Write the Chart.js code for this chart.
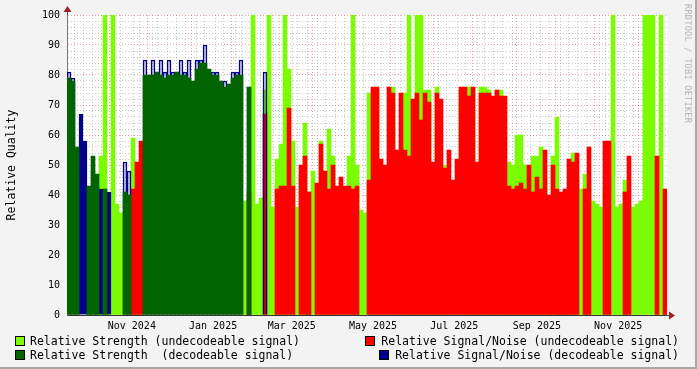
<!DOCTYPE html>
<html>
<head>
<meta charset="utf-8">
<script src="https://cdn.jsdelivr.net/npm/chart.js@4.4.1/dist/chart.umd.min.js"></script>
<style>
html, body { margin: 0; padding: 0; }
body { width: 697px; height: 369px; background: #f3f3f3; position: relative; overflow: hidden; font-family: 'DejaVu Sans Mono', monospace; }
#frame { position: absolute; left: 0; top: 0; width: 695px; height: 367px; border-right: 2px solid #a8a8a8; border-bottom: 2px solid #a8a8a8; }
#chart { position: absolute; left: 0; top: 0; }
.lg { position: absolute; font-size: 11.5px; line-height: 14px; white-space: pre; color: #000; }
.sw { position: absolute; width: 8px; height: 8px; border: 1px solid #000; }
#credit { position: absolute; left: 683px; top: 4px; writing-mode: vertical-rl; font-size: 8.5px; color: #b4b4b4; letter-spacing: 0.3px; }
</style>
</head>
<body>
<div id="frame"></div>
<canvas id="chart" width="697" height="369"></canvas>
<div id="credit">RRDTOOL / TOBI OETIKER</div>

<div class="sw" style="left:15px;top:336px;background:#7cfc00"></div>
<div class="lg" style="left:30px;top:334px">Relative Strength (undecodeable signal)</div>
<div class="sw" style="left:15px;top:350px;background:#006400"></div>
<div class="lg" style="left:30px;top:348px">Relative Strength  (decodeable signal)</div>
<div class="sw" style="left:365px;top:336px;background:#ff0000"></div>
<div class="lg" style="right:18px;top:334px">Relative Signal/Noise (undecodeable signal)</div>
<div class="sw" style="left:379px;top:350px;background:#00008b"></div>
<div class="lg" style="right:18px;top:348px">Relative Signal/Noise (decodeable signal)</div>

<script>
// 3-day buckets starting 2024-10-01 (null = nothing drawn)
var strengthUndec = [
  null, null, 36, null, null, 39, null, 37, 53, 100,
  39, 100, 37, 34, null, null, 59, 34, 34, null,
  null, null, null, null, null, null, null, null, null, null,
  null, null, null, null, null, null, null, null, null, null,
  null, null, null, null, 38, null, 100, 37, 39, 75,
  100, 36, 52, 57, 100, 82, 58, 36, 47, 64,
  41, 48, 37, 58, 43, 62, 53, 42, 40, 41,
  53, 100, 50, 35, 34, 74, 36, 75, 40, 40,
  36, 76, 50, 47, 74, 100, 34, 100, 100, 75,
  75, 36, 76, 50, 50, 34, 34, 36, 75, 75,
  76, 76, 34, 76, 76, 75, 34, 75, 75, 42,
  51, 50, 60, 60, 50, 38, 53, 53, 56, 46,
  37, 53, 66, 37, 38, 38, 54, 47, 42, 47,
  44, 38, 37, 36, 43, 37, 100, 36, 37, 45,
  37, 36, 37, 38, 100, 100, 100, 39, 100, 39
];
var strengthDec = [
  79, 78, 56, null, null, 43, 53, 47, null, 42,
  null, null, null, null, 41, 40, null, null, null, 80,
  80, 80, 81, 80, 79, 80, 80, 81, 80, 80,
  79, 78, 82, 84, 84, 82, 80, 80, 78, 76,
  77, 79, 80, 80, null, 76, null, null, null, null,
  null, null, null, null, null, null, null, null, null, null,
  null, null, null, null, null, null, null, null, null, null,
  null, null, null, null, null, null, null, null, null, null,
  null, null, null, null, null, null, null, null, null, null,
  null, null, null, null, null, null, null, null, null, null,
  null, null, null, null, null, null, null, null, null, null,
  null, null, null, null, null, null, null, null, null, null,
  null, null, null, null, null, null, null, null, null, null,
  null, null, null, null, null, null, null, null, null, null,
  null, null, null, null, null, null, null, null, null, null
];
var snrUndec = [
  null, null, null, null, null, null, null, null, null, null,
  null, null, null, null, null, null, 42, 51, 58, null,
  null, null, null, null, null, null, null, null, null, null,
  null, null, null, null, null, null, null, null, null, null,
  null, null, null, null, null, 41, null, null, null, 67,
  null, null, 42, 43, 43, 69, 43, null, 50, 53,
  41, null, 44, 57, 48, 42, 50, 43, 46, 43,
  43, 42, 43, null, null, 45, 76, 76, 52, 50,
  76, 74, 55, 74, 55, 53, 72, 74, 65, 74,
  71, 51, 74, 72, 49, 55, 45, 52, 76, 76,
  73, 76, 51, 74, 74, 74, 73, 75, 73, 73,
  43, 42, 43, 44, 42, 50, 41, 46, 42, 55,
  40, 50, 42, 41, 42, 52, 51, 54, null, 42,
  56, null, null, null, 58, 58, null, null, null, 41,
  53, null, null, null, null, null, null, 53, null, 42
];
var snrDec = [
  81, 79, 55, 67, 58, 43, 48, 43, 42, null,
  41, null, null, null, 51, 48, null, null, null, 85,
  80, 85, 81, 85, 81, 85, 81, 81, 85, 81,
  85, 76, 85, 85, 90, 81, 81, 81, 78, 78,
  77, 81, 81, 85, null, 76, null, null, null, 81,
  null, null, null, null, null, null, null, null, null, null,
  null, null, null, null, null, null, null, null, null, null,
  null, null, null, null, null, null, null, null, null, null,
  null, null, null, null, null, null, null, null, null, null,
  null, null, null, null, null, null, null, null, null, null,
  null, null, null, null, null, null, null, null, null, null,
  null, null, null, null, null, null, null, null, null, null,
  null, null, null, null, null, null, null, null, null, null,
  null, null, null, null, null, null, null, null, null, null,
  null, null, null, null, null, null, null, null, null, null
];

var monthStarts = ['2024-10-01', '2024-11-01', '2024-12-01', '2025-01-01', '2025-02-01', '2025-03-01', '2025-04-01',
  '2025-05-01', '2025-06-01', '2025-07-01', '2025-08-01', '2025-09-01', '2025-10-01', '2025-11-01', '2025-12-01'];
var labelMonths = ['2024-11-01', '2025-01-01', '2025-03-01', '2025-05-01', '2025-07-01', '2025-09-01', '2025-11-01'];
var monthLabels = ['Nov 2024', 'Jan 2025', 'Mar 2025', 'May 2025', 'Jul 2025', 'Sep 2025', 'Nov 2025'];

var START = Date.parse('2024-10-01');
var SPAN = 445; // days shown
function dayOf(s) { return (Date.parse(s) - START) / 86400000; }

var periods = strengthUndec.map(function (v, i) {
  return new Date(START + i * 3 * 86400000).toISOString().slice(0, 10);
});

// grid ticks: weeks (mondays), month starts, and mid-month labels
var gridTicks = [];
for (var d = 6; d < SPAN; d += 7) gridTicks.push({ value: d, kind: 'week' });
monthStarts.forEach(function (m) { gridTicks.push({ value: dayOf(m), kind: 'month' }); });
labelMonths.forEach(function (m, i) { gridTicks.push({ value: dayOf(m) + 15, kind: 'label', text: monthLabels[i] }); });
gridTicks.sort(function (a, b) { return a.value - b.value; });

var MINOR = 'rgba(140,140,140,0.45)';
var MAJOR = 'rgba(220,90,90,0.55)';
var FONT = 'DejaVu Sans Mono';

var bgPlugin = {
  id: 'bg',
  beforeDraw: function (chart) {
    var a = chart.chartArea, ctx = chart.ctx;
    ctx.save();
    ctx.fillStyle = '#ffffff';
    ctx.fillRect(a.left, a.top, a.right - a.left, a.bottom - a.top);
    ctx.restore();
  },
  afterDraw: function (chart) {
    var a = chart.chartArea, ctx = chart.ctx;
    ctx.save();
    ctx.strokeStyle = '#555';
    ctx.lineWidth = 1;
    ctx.beginPath();
    ctx.moveTo(a.left + 0.5, a.top); ctx.lineTo(a.left + 0.5, a.top - 6);
    ctx.moveTo(a.right, a.bottom + 0.5); ctx.lineTo(a.right + 5, a.bottom + 0.5);
    ctx.stroke();
    ctx.fillStyle = '#a02020';
    ctx.beginPath();
    ctx.moveTo(a.left - 3.5, a.top - 3); ctx.lineTo(a.left + 4.5, a.top - 3); ctx.lineTo(a.left + 0.5, a.top - 9);
    ctx.closePath(); ctx.fill();
    ctx.beginPath();
    ctx.moveTo(a.right + 2, a.bottom - 3.5); ctx.lineTo(a.right + 2, a.bottom + 4.5); ctx.lineTo(a.right + 8, a.bottom + 0.5);
    ctx.closePath(); ctx.fill();
    ctx.restore();
  }
};

function bars(label, data, color, order) {
  return {
    label: label, data: data, backgroundColor: color, borderWidth: 0, order: order,
    grouped: false, barPercentage: 1, categoryPercentage: 1, xAxisID: 'x', yAxisID: 'y'
  };
}

var snrDecSet = bars('Relative Signal/Noise (decodeable signal)', snrDec, '#00008b', 2);
snrDecSet.backgroundColor = function (c) {
  var i = c.dataIndex;
  return (strengthDec[i] == null && snrUndec[i] == null) ? '#00008b' : 'rgba(0,0,0,0)';
};
snrDecSet.borderColor = '#00008b';
snrDecSet.borderWidth = 1;
snrDecSet.borderSkipped = 'start';

new Chart(document.getElementById('chart'), {
  type: 'bar',
  data: {
    labels: periods,
    datasets: [
      bars('Relative Strength (undecodeable signal)', strengthUndec, '#7cfc00', 4),
      bars('Relative Signal/Noise (undecodeable signal)', snrUndec, '#ff0000', 3),
      snrDecSet,
      bars('Relative Strength  (decodeable signal)', strengthDec, '#006400', 1)
    ]
  },
  options: {
    responsive: false,
    animation: false,
    devicePixelRatio: 1,
    layout: { padding: { left: 0, right: 30, top: 15, bottom: 0 } },
    plugins: { legend: { display: false }, tooltip: { enabled: false } },
    scales: {
      x: { type: 'category', display: false },
      xd: {
        type: 'linear', position: 'bottom', min: 0, max: SPAN, z: 1,
        afterBuildTicks: function (s) { s.ticks = gridTicks.map(function (t) { return Object.assign({}, t); }); },
        afterFit: function (s) { s.height = 54; },
        grid: {
          drawTicks: false, lineWidth: 1,
          color: function (c) {
            if (!c.tick) return 'rgba(0,0,0,0)';
            return c.tick.kind === 'month' ? MAJOR : c.tick.kind === 'week' ? MINOR : 'rgba(0,0,0,0)';
          }
        },
        border: { display: true, color: '#333', width: 1, dash: [1, 2] },
        ticks: {
          autoSkip: false, maxRotation: 0, padding: 5, color: '#000',
          font: { family: FONT, size: 10 },
          callback: function (v, i, t) { return t[i].text || ''; }
        }
      },
      y: {
        min: 0, max: 100, z: 1,
        afterFit: function (s) { s.width = 67; },
        grid: {
          drawTicks: false, lineWidth: 1,
          color: function (c) { return c.tick && c.tick.value % 10 === 0 ? MAJOR : MINOR; }
        },
        border: { display: true, color: '#777', width: 1, dash: [1, 2] },
        ticks: {
          stepSize: 2, autoSkip: false, padding: 7, color: '#000',
          font: { family: FONT, size: 10 },
          callback: function (v) { return v % 10 === 0 ? v : ''; }
        },
        title: {
          display: true, text: 'Relative Quality', color: '#000',
          font: { family: FONT, size: 11.5 }, padding: { top: 5, bottom: 0 }
        }
      }
    }
  },
  plugins: [bgPlugin]
});
</script>
</body>
</html>
